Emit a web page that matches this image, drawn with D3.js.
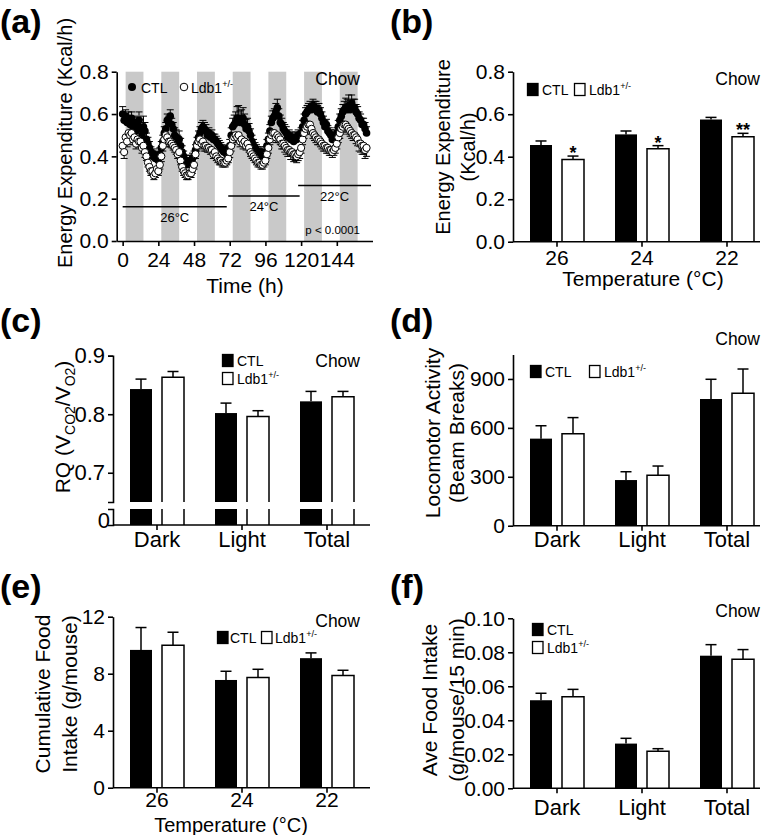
<!DOCTYPE html>
<html><head><meta charset="utf-8">
<script src="https://cdn.jsdelivr.net/npm/d3@7"></script>
<style>body{margin:0;background:#fff}svg{display:block}</style>
</head><body><svg id="c" width="773" height="835"></svg>
<script>
// ---------- DATA ----------
const SERIES = ["CTL", "Ldb1"];
// Panel (a): energy expenditure time course (Kcal/h), hourly
const timeH = [0,1,2,3,4,5,6,7,8,9,10,11,12,13,14,15,16,17,18,19,20,21,22,23,
  24,25,26,27,28,29,30,31,32,33,34,35,36,37,38,39,40,41,42,43,44,45,46,47,
  48,49,50,51,52,53,54,55,56,57,58,59,60,61,62,63,64,65,66,67,68,69,70,71,
  72,73,74,75,76,77,78,79,80,81,82,83,84,85,86,87,88,89,90,91,92,93,94,95,
  96,97,98,99,100,101,102,103,104,105,106,107,108,109,110,111,112,113,114,115,116,117,118,119,
  120,121,122,123,124,125,126,127,128,129,130,131,132,133,134,135,136,137,138,139,140,141,142,143,
  144,145,146,147,148,149,150,151,152,153,154,155,156,157,158,159,160,161,162,163,164];
const eeCTL = [
  .60,.57,.59,.56,.58,.55,.58,.54,.56,.52,.55,.57, .53,.50,.54,.52,.48,.46,.44,.42,.40,.41,.39,.40,
  .38,.41,.44,.47,.51,.53,.57,.56,.59,.55,.53,.50, .49,.46,.48,.45,.42,.40,.38,.36,.37,.38,.38,.39,
  .40,.43,.46,.49,.51,.53,.54,.53,.52,.50,.51,.49, .50,.48,.48,.47,.46,.45,.44,.43,.42,.43,.41,.43,
  .45,.50,.54,.55,.56,.58,.58,.56,.57,.58,.55,.53, .54,.52,.50,.47,.45,.44,.43,.42,.41,.42,.40,.41,
  .42,.45,.48,.52,.56,.58,.59,.61,.63,.59,.56,.55, .53,.52,.51,.49,.50,.48,.49,.47,.49,.48,.50,.49,
  .51,.54,.57,.60,.61,.62,.63,.62,.64,.63,.63,.61, .62,.60,.58,.56,.54,.55,.52,.51,.50,.48,.49,.50,
  .51,.54,.57,.59,.61,.62,.63,.62,.64,.62,.65,.63, .63,.61,.60,.58,.57,.55,.55,.53,.51];
const eeLdb = [
  .45,.42,.49,.47,.51,.50,.51,.48,.49,.46,.48,.47, .47,.44,.45,.42,.40,.37,.35,.33,.33,.31,.32,.34,
  .33,.36,.40,.45,.48,.50,.49,.47,.47,.46,.45,.44, .43,.41,.42,.38,.35,.33,.32,.31,.31,.32,.32,.34,
  .36,.41,.45,.47,.48,.46,.47,.45,.45,.44,.44,.43, .43,.41,.42,.40,.39,.38,.38,.37,.37,.37,.38,.39,
  .42,.45,.48,.49,.50,.49,.50,.47,.48,.46,.47,.45, .46,.44,.42,.41,.40,.39,.38,.37,.37,.36,.36,.37,
  .38,.41,.44,.48,.50,.51,.51,.49,.50,.49,.48,.46, .46,.45,.44,.43,.43,.42,.42,.41,.41,.40,.41,.42,
  .44,.48,.51,.53,.54,.55,.55,.53,.51,.50,.49,.48, .48,.47,.46,.45,.45,.44,.44,.43,.43,.42,.43,.44,
  .46,.49,.51,.53,.54,.55,.55,.54,.53,.52,.51,.50, .50,.49,.48,.46,.46,.45,.45,.43,.44];
const eeCTLsem = [
  .035,.03,.03,.03,.03,.03,.03,.03,.03,.03,.035,.04, .045,.04,.05,.04,.03,.03,.03,.025,.025,.025,.025,.025,
  .03,.03,.03,.03,.03,.03,.03,.03,.03,.03,.03,.035, .035,.04,.04,.035,.03,.025,.025,.025,.025,.025,.025,.025,
  .025,.025,.03,.03,.03,.03,.03,.03,.03,.025,.025,.025, .025,.025,.025,.025,.025,.025,.025,.025,.025,.02,.02,.02,
  .03,.035,.04,.045,.05,.055,.06,.055,.05,.05,.05,.045, .04,.035,.03,.03,.03,.025,.025,.025,.025,.025,.025,.025,
  .025,.03,.03,.03,.03,.035,.035,.04,.04,.035,.035,.03, .03,.03,.03,.025,.025,.025,.025,.025,.025,.025,.025,.025,
  .025,.03,.03,.03,.03,.03,.03,.03,.03,.03,.03,.03, .03,.03,.03,.03,.03,.025,.025,.025,.025,.025,.025,.025,
  .025,.03,.03,.035,.035,.04,.045,.05,.05,.045,.04,.04, .04,.035,.035,.03,.03,.03,.03,.03,.03];
const eeLdbSem = [
  .03,.03,.025,.025,.025,.025,.025,.025,.025,.025,.025,.025, .025,.025,.025,.025,.02,.02,.02,.02,.02,.02,.02,.02,
  .02,.02,.025,.025,.025,.025,.025,.025,.025,.02,.02,.02, .02,.02,.02,.02,.02,.02,.02,.02,.02,.02,.02,.02,
  .02,.02,.025,.025,.025,.025,.025,.025,.025,.02,.02,.02, .02,.02,.02,.02,.02,.02,.02,.02,.02,.02,.02,.02,
  .025,.025,.025,.025,.025,.025,.025,.025,.025,.025,.025,.02, .02,.02,.02,.02,.02,.02,.02,.02,.02,.02,.02,.02,
  .02,.02,.025,.025,.025,.025,.025,.025,.025,.025,.025,.025, .025,.03,.03,.03,.03,.035,.035,.035,.03,.03,.03,.03,
  .025,.025,.025,.025,.025,.025,.025,.025,.025,.025,.025,.025, .025,.025,.025,.025,.025,.025,.025,.025,.025,.025,.025,.025,
  .025,.025,.025,.025,.025,.025,.025,.025,.025,.025,.025,.025, .025,.03,.03,.035,.04,.04,.04,.04,.04];
const darkStartH = [2,26,50,74,98,122,146];
const darkLenH = 12;
const tempPhases = [
  {label:"26°C", from:0, to:70, level:0.162},
  {label:"24°C", from:71, to:119, level:0.213},
  {label:"22°C", from:118, to:167, level:0.262}];
const timeTicks = [0,24,48,72,96,120,144];
const eeTicks = [0,0.2,0.4,0.6,0.8];

// Panel (b): energy expenditure by temperature
const tempCats = ["26","24","22"];
const bCTL = [0.455,0.505,0.575], bCTLsem = [0.019,0.016,0.010];
const bLdb = [0.387,0.438,0.494], bLdbSem = [0.016,0.014,0.016];
const bSig = ["*","*","**"];

// Panel (c): RQ
const phaseCats = ["Dark","Light","Total"];
const cCTL = [0.843,0.802,0.822], cCTLsem = [0.017,0.017,0.017];
const cLdb = [0.863,0.796,0.830], cLdbSem = [0.010,0.010,0.009];
const cTicks = [0.7,0.8,0.9];

// Panel (d): locomotor activity
const dCTL = [534,280,777], dCTLsem = [79,51,121];
const dLdb = [564,309,812], dLdbSem = [99,57,149];
const dTicks = [0,300,600,900];

// Panel (e): cumulative food intake
const eCTL = [9.67,7.56,9.09], eCTLsem = [1.57,0.61,0.37];
const eLdb = [10.0,7.73,7.87], eLdbSem = [0.91,0.58,0.37];
const eTicks = [0,4,8,12];

// Panel (f): average food intake
const fCTL = [0.0518,0.0263,0.078], fCTLsem = [0.0041,0.0031,0.0065];
const fLdb = [0.0539,0.0218,0.0759], fLdbSem = [0.0043,0.0015,0.0057];
const fTicks = [0,0.02,0.04,0.06,0.08,0.10];

// ---------- DRAWING ----------
const FONT = '"Liberation Sans", Arial, Helvetica, sans-serif';
const svg = d3.select("#c").style("font-family", FONT);
const SW = 1.6;

function styleAxis(g, fs) {
  g.select(".domain").attr("stroke", "#000").attr("stroke-width", SW);
  g.selectAll(".tick line").attr("stroke", "#000").attr("stroke-width", SW);
  g.selectAll("text").attr("font-size", fs).attr("font-family", FONT).attr("fill", "#000");
}
function txt(x, y, s, fs, anchor, weight) {
  return svg.append("text").attr("x", x).attr("y", y).attr("font-size", fs)
    .attr("text-anchor", anchor || "start").attr("font-weight", weight || "normal").text(s);
}
function panelLabel(x, y, s) { txt(x, y, s, 34, "start", "bold"); }
function yTitle(x, y, s, fs) {
  return svg.append("text").attr("transform", `translate(${x},${y}) rotate(-90)`)
    .attr("text-anchor", "middle").attr("dy", "0.35em").attr("font-size", fs).text(s);
}
function ldbLabel(x, y, fs) {
  const t = svg.append("text").attr("x", x).attr("y", y).attr("font-size", fs);
  t.append("tspan").text("Ldb1");
  t.append("tspan").attr("dy", -6).attr("font-size", fs * 0.65).text("+/-");
}
function legendSq(x, y, filled) {
  svg.append("rect").attr("x", x + 0.5).attr("y", y + 0.5).attr("width", 10.5).attr("height", 12)
    .attr("fill", filled ? "#000" : "#fff").attr("stroke", "#000").attr("stroke-width", 1.3);
}

// ===== Panel (a) =====
(function () {
  const x = d3.scaleLinear().domain([-4, 168]).range([116.7, 372.5]);
  const y = d3.scaleLinear().domain([0, 0.8]).range([241, 71.7]);
  const g = svg.append("g");
  g.selectAll("rect.dark").data(darkStartH).join("rect")
    .attr("x", d => x(d)).attr("width", d => x(d + darkLenH) - x(d))
    .attr("y", y(0.8)).attr("height", y(0) - y(0.8)).attr("fill", "#c9c9c9");
  g.selectAll("line.ph").data(tempPhases).join("line")
    .attr("x1", d => x(d.from)).attr("x2", d => x(d.to))
    .attr("y1", d => y(d.level)).attr("y2", d => y(d.level))
    .attr("stroke", "#000").attr("stroke-width", 1.5);
  g.selectAll("text.ph").data(tempPhases).join("text")
    .attr("x", d => x((d.from + d.to) / 2)).attr("y", d => y(d.level) + 15)
    .attr("text-anchor", "middle").attr("font-size", 13).text(d => d.label);

  const pts = timeH.map((t, i) => ({t, c: eeCTL[i], cs: eeCTLsem[i], l: eeLdb[i], ls: eeLdbSem[i]}));
  const eb = (val, sem, dir) => pts.forEach(p => {
    if (p[val] == null || p[sem] == null) return;
    const cx = x(p.t), y0 = y(p[val]), y1 = y(p[val] + dir * p[sem]);
    g.append("line").attr("x1", cx).attr("x2", cx).attr("y1", y0).attr("y2", y1).attr("stroke", "#000").attr("stroke-width", 1);
    g.append("line").attr("x1", cx - 3.5).attr("x2", cx + 3.5).attr("y1", y1).attr("y2", y1).attr("stroke", "#000").attr("stroke-width", 1);
  });
  eb("l", "ls", -1);
  eb("c", "cs", 1);
  g.selectAll("circle.c").data(pts.filter(d => d.c != null)).join("circle")
    .attr("cx", d => x(d.t)).attr("cy", d => y(d.c)).attr("r", 3.8).attr("fill", "#000");
  g.selectAll("circle.l").data(pts.filter(d => d.l != null)).join("circle")
    .attr("cx", d => x(d.t)).attr("cy", d => y(d.l)).attr("r", 3.6)
    .attr("fill", "#fff").attr("stroke", "#000").attr("stroke-width", 1);

  const ya = svg.append("g").attr("transform", `translate(${x(-4)},0)`)
    .call(d3.axisLeft(y).tickValues(eeTicks).tickFormat(d3.format(".1f")).tickSize(5).tickSizeOuter(0).tickPadding(3));
  styleAxis(ya, 21);
  const xa = svg.append("g").attr("transform", `translate(0,${y(0)})`)
    .call(d3.axisBottom(x).tickValues(timeTicks).tickFormat(d3.format("d")).tickSize(5).tickSizeOuter(0));
  styleAxis(xa, 21);
  xa.selectAll("text").attr("y", 25.5).attr("dy", 0);

  yTitle(65, 143, "Energy Expenditure (Kcal/h)", 20);
  txt(245, 293, "Time (h)", 21, "middle");
  svg.append("circle").attr("cx", 132).attr("cy", 87).attr("r", 4).attr("fill", "#000");
  txt(141, 92.5, "CTL", 14);
  svg.append("circle").attr("cx", 184).attr("cy", 87).attr("r", 3.8).attr("fill", "#fff").attr("stroke", "#000").attr("stroke-width", 1);
  ldbLabel(191, 92.5, 14);
  txt(360, 85, "Chow", 17.5, "end");
  txt(360, 234, "p < 0.0001", 11.5, "end");
  panelLabel(0, 33, "(a)");
})();

// ===== Generic bar panel =====
function barPanel(o) {
  const x0 = d3.scaleBand().domain(o.cats).range([o.bandStart, o.bandStart + 255]);
  const x1 = d3.scaleBand().domain(SERIES).range([-27, 27]).paddingInner(0.3125);
  const g = svg.append("g");
  SERIES.forEach((s, si) => {
    const vals = si ? o.ldb : o.ctl, errs = si ? o.ldbSem : o.ctlSem;
    o.cats.forEach((c, i) => {
      const xl = x0(c) + x0.bandwidth() / 2 + x1(s), w = x1.bandwidth(), cx = xl + w / 2;
      o.segments.forEach(sg => {
        const dom = sg.scale.domain();
        const isTop = vals[i] <= dom[1];
        const top = sg.scale(Math.min(vals[i], dom[1]));
        const bot = sg.scale(dom[0]);
        if (si === 0) {
          g.append("rect").attr("x", xl).attr("y", top).attr("width", w).attr("height", bot - top).attr("fill", "#000");
        } else {
          const p = isTop ? `M${xl},${bot}V${top}H${xl + w}V${bot}` : `M${xl},${bot}V${top}M${xl + w},${top}V${bot}`;
          g.append("path").attr("d", p).attr("fill", "#fff").attr("stroke", "#000").attr("stroke-width", 1.5);
        }
      });
      const ys = o.valueScale;
      const yv = ys(vals[i]), ye = ys(vals[i] + errs[i]);
      g.append("line").attr("x1", cx).attr("x2", cx).attr("y1", yv).attr("y2", ye).attr("stroke", "#000").attr("stroke-width", 1.5);
      g.append("line").attr("x1", cx - 5.5).attr("x2", cx + 5.5).attr("y1", ye).attr("y2", ye).attr("stroke", "#000").attr("stroke-width", 1.5);
      if (si === 1 && o.sig) txt(cx, ye + 3, o.sig[i], 18, "middle", "bold");
    });
  });
  const xa = svg.append("g").attr("transform", `translate(0,${o.xAxisY})`)
    .call(d3.axisBottom(x0).tickSize(5).tickSizeOuter(0));
  styleAxis(xa, o.catFs);
  xa.select(".domain").remove();
  xa.selectAll("text").attr("y", o.catOffset).attr("dy", 0);
  svg.append("line").attr("x1", o.yAxisX).attr("x2", o.xEnd).attr("y1", o.xAxisY).attr("y2", o.xAxisY)
    .attr("stroke", "#000").attr("stroke-width", SW);
  return g;
}

// ===== Panel (b) =====
(function () {
  const y = d3.scaleLinear().domain([0, 0.8]).range([241.7, 71.7]);
  barPanel({cats: tempCats, ctl: bCTL, ctlSem: bCTLsem, ldb: bLdb, ldbSem: bLdbSem, sig: bSig,
    bandStart: 514.5, yAxisX: 513, xEnd: 760, xAxisY: y(0), segments: [{scale: y}], valueScale: y,
    catFs: 21, catOffset: 23.5});
  const ya = svg.append("g").attr("transform", "translate(513,0)")
    .call(d3.axisLeft(y).tickValues(eeTicks).tickFormat(d3.format(".1f")).tickSize(5).tickSizeOuter(0).tickPadding(3));
  styleAxis(ya, 21);
  yTitle(443, 147, "Energy Expenditure", 20);
  yTitle(468, 147, "(Kcal/h)", 20);
  txt(643, 286, "Temperature (°C)", 21, "middle");
  legendSq(527, 83, true); txt(542, 94.5, "CTL", 14);
  legendSq(574, 83, false); ldbLabel(589, 94.5, 14);
  txt(760, 85, "Chow", 17.5, "end");
  panelLabel(390, 33, "(b)");
})();

// ===== Panel (c) =====
(function () {
  const yU = d3.scaleLinear().domain([0.65, 0.9]).range([502, 355.7]);
  const yL = d3.scaleLinear().domain([0, 0.05]).range([525, 509]);
  barPanel({cats: phaseCats, ctl: cCTL, ctlSem: cCTLsem, ldb: cLdb, ldbSem: cLdbSem,
    bandStart: 114.5, yAxisX: 113, xEnd: 370, xAxisY: 525, segments: [{scale: yU}, {scale: yL}], valueScale: yU,
    catFs: 22, catOffset: 22});
  const ya = svg.append("g").attr("transform", "translate(113,0)")
    .call(d3.axisLeft(yU).tickValues(cTicks).tickFormat(d3.format(".1f")).tickSize(5).tickSizeOuter(5).tickPadding(3));
  styleAxis(ya, 22);
  const yb = svg.append("g").attr("transform", "translate(113,0)")
    .call(d3.axisLeft(yL).tickValues([0]).tickFormat(d3.format("d")).tickSize(0).tickSizeOuter(5).tickPadding(3));
  styleAxis(yb, 22);
  yb.selectAll("text").attr("dy", "0.1em");
  const t = svg.append("text").attr("transform", "translate(63,427) rotate(-90)")
    .attr("text-anchor", "middle").attr("dy", "0.35em").attr("font-size", 21);
  t.append("tspan").text("RQ (V");
  t.append("tspan").attr("font-size", 14).attr("dy", 5).text("CO2");
  t.append("tspan").attr("dy", -5).text("/V");
  t.append("tspan").attr("font-size", 14).attr("dy", 5).text("O2");
  t.append("tspan").attr("dy", -5).text(")");
  legendSq(222, 354, true); txt(237, 365.5, "CTL", 14);
  legendSq(222, 372, false); ldbLabel(237, 384, 14);
  txt(360, 367, "Chow", 17.5, "end");
  panelLabel(0, 332, "(c)");
})();

// ===== Panel (d) =====
(function () {
  const y = d3.scaleLinear().domain([0, 1050]).range([525.7, 354.5]);
  barPanel({cats: phaseCats, ctl: dCTL, ctlSem: dCTLsem, ldb: dLdb, ldbSem: dLdbSem,
    bandStart: 514.5, yAxisX: 513, xEnd: 760, xAxisY: y(0), segments: [{scale: y}], valueScale: y,
    catFs: 22, catOffset: 21});
  const ya = svg.append("g").attr("transform", "translate(513,0)")
    .call(d3.axisLeft(y).tickValues(dTicks).tickFormat(d3.format("d")).tickSize(5).tickSizeOuter(0).tickPadding(3));
  styleAxis(ya, 21);
  yTitle(433, 433, "Locomotor Activity", 21);
  yTitle(457, 433, "(Beam Breaks)", 21);
  legendSq(530, 365, true); txt(545, 376.5, "CTL", 14);
  legendSq(589, 365, false); ldbLabel(604, 376.5, 14);
  txt(760, 345, "Chow", 17.5, "end");
  panelLabel(390, 332, "(d)");
})();

// ===== Panel (e) =====
(function () {
  const y = d3.scaleLinear().domain([0, 12]).range([787.7, 616.7]);
  barPanel({cats: tempCats, ctl: eCTL, ctlSem: eCTLsem, ldb: eLdb, ldbSem: eLdbSem,
    bandStart: 114.5, yAxisX: 113, xEnd: 370, xAxisY: y(0), segments: [{scale: y}], valueScale: y,
    catFs: 21, catOffset: 19});
  const ya = svg.append("g").attr("transform", "translate(113,0)")
    .call(d3.axisLeft(y).tickValues(eTicks).tickFormat(d3.format("d")).tickSize(5).tickSizeOuter(0).tickPadding(3));
  styleAxis(ya, 21);
  yTitle(43, 694, "Cumulative Food", 21);
  yTitle(70, 694, "Intake (g/mouse)", 21);
  txt(231, 831.5, "Temperature (°C)", 20, "middle");
  legendSq(217, 631, true); txt(230, 642.5, "CTL", 14);
  legendSq(261, 631, false); ldbLabel(275, 642.5, 14);
  txt(360, 627, "Chow", 17.5, "end");
  panelLabel(0, 598, "(e)");
})();

// ===== Panel (f) =====
(function () {
  const y = d3.scaleLinear().domain([0, 0.10]).range([788.3, 618.3]);
  barPanel({cats: phaseCats, ctl: fCTL, ctlSem: fCTLsem, ldb: fLdb, ldbSem: fLdbSem,
    bandStart: 514.5, yAxisX: 513, xEnd: 760, xAxisY: y(0), segments: [{scale: y}], valueScale: y,
    catFs: 22, catOffset: 27});
  const ya = svg.append("g").attr("transform", "translate(513,0)")
    .call(d3.axisLeft(y).tickValues(fTicks).tickFormat(d3.format(".2f")).tickSize(5).tickSizeOuter(0).tickPadding(3));
  styleAxis(ya, 21);
  yTitle(430, 700, "Ave Food Intake", 21);
  yTitle(457, 700, "(g/mouse/15 min)", 21);
  legendSq(532, 623, true); txt(547, 634.5, "CTL", 14);
  legendSq(532, 641, false); ldbLabel(547, 652.5, 14);
  txt(760, 617, "Chow", 17.5, "end");
  panelLabel(390, 598, "(f)");
})();
</script></body></html>
